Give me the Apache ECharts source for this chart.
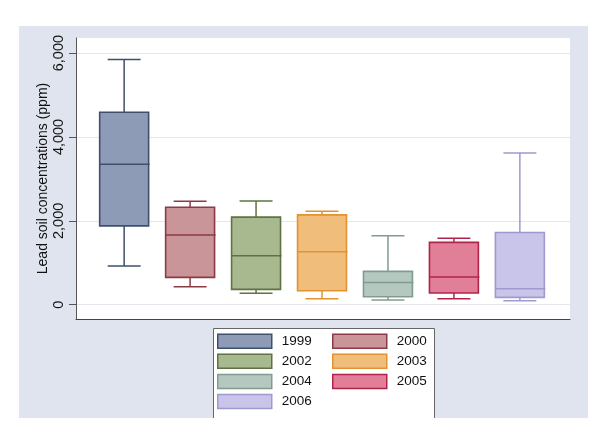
<!DOCTYPE html>
<html><head><meta charset="utf-8">
<script src="https://cdn.jsdelivr.net/npm/echarts@6/dist/echarts.min.js"></script>
<style>html,body{margin:0;padding:0;background:#fff}#c{width:600px;height:434px}</style>
</head><body><div id="c"></div>
<script>
const years = ['1999', '2000', '2002', '2003', '2004', '2005', '2006'];
const whiskerLow = [921, 429, 271, 143, 112, 143, 95];
const q1 = [1881, 652, 367, 333, 190, 279, 176];
const median = [3350, 1660, 1167, 1262, 533, 660, 381];
const q3 = [4588, 2326, 2088, 2143, 795, 1486, 1724];
const whiskerHigh = [5850, 2469, 2476, 2231, 1643, 1588, 3619];
const yTicks = [0, 2000, 4000, 6000];

const fills = ['#8e9bb6', '#c99599', '#a8b98f', '#f1bd7a', '#b5c8c0', '#e17f99', '#c8c4ea'];
const strokes = ['#3e506d', '#8c3b44', '#5e7343', '#e29331', '#819b91', '#b2234b', '#9f99cf'];

const fmt = v => String(v).replace(/\B(?=(\d{3})+(?!\d))/g, ',');

function makeRender(i) {
  return function (params, api) {
    const x = api.value(0);
    const unit = api.size([1, 0])[0];
    const bw = unit * 0.742, cw = unit * 0.5;
    const pLo = api.coord([x, api.value(1)]);
    const pQ1 = api.coord([x, api.value(2)]);
    const pMed = api.coord([x, api.value(3)]);
    const pQ3 = api.coord([x, api.value(4)]);
    const pHi = api.coord([x, api.value(5)]);
    const cx = pLo[0];
    const ls = { stroke: strokes[i], lineWidth: 1.5 };
    return {
      type: 'group',
      children: [
        { type: 'line', shape: { x1: cx, y1: pHi[1], x2: cx, y2: pQ3[1] }, style: ls },
        { type: 'line', shape: { x1: cx, y1: pQ1[1], x2: cx, y2: pLo[1] }, style: ls },
        { type: 'line', shape: { x1: cx - cw / 2, y1: pHi[1], x2: cx + cw / 2, y2: pHi[1] }, style: ls },
        { type: 'line', shape: { x1: cx - cw / 2, y1: pLo[1], x2: cx + cw / 2, y2: pLo[1] }, style: ls },
        { type: 'rect', shape: { x: cx - bw / 2, y: pQ3[1], width: bw, height: pQ1[1] - pQ3[1] },
          style: { fill: fills[i], stroke: strokes[i], lineWidth: 1.6 } },
        { type: 'line', shape: { x1: cx - bw / 2, y1: pMed[1], x2: cx + bw / 2 + 1, y2: pMed[1] }, style: ls }
      ]
    };
  };
}

const series = years.map((y, i) => ({
  type: 'custom',
  name: y,
  renderItem: makeRender(i),
  itemStyle: { color: fills[i], borderColor: strokes[i] },
  encode: { x: 0, y: [1, 2, 3, 4, 5] },
  data: [[i + 1, whiskerLow[i], q1[i], median[i], q3[i], whiskerHigh[i]]]
}));

function legendFor(idx, left) {
  return {
    orient: 'vertical', left: left, top: 333.5, padding: 0,
    itemWidth: 54, itemHeight: 14, itemGap: 4.6, icon: 'rect',
    selectedMode: false,
    textStyle: { fontFamily: 'Liberation Sans, Arial, sans-serif', fontSize: 13.5, color: '#111', padding: [0, 0, 0, 5] },
    data: idx.map(i => ({ name: years[i], itemStyle: { color: fills[i], borderColor: strokes[i], borderWidth: 1.5 } }))
  };
}

const chart = echarts.init(document.getElementById('c'), null, { renderer: 'canvas' });
chart.setOption({
  animation: false,
  backgroundColor: '#fff',
  textStyle: { fontFamily: 'Liberation Sans, Arial, sans-serif' },
  graphic: [
    { type: 'rect', z: -10, shape: { x: 19, y: 26, width: 569, height: 392 }, style: { fill: '#dfe4ee' } },
    { type: 'rect', z: -5, shape: { x: 213.5, y: 328.5, width: 221, height: 89.5 }, style: { fill: '#fff' } },
    { type: 'polyline', z: -4, shape: { points: [[213.5, 418], [213.5, 328.5], [434.5, 328.5], [434.5, 418]] },
      style: { stroke: '#666', lineWidth: 1, fill: null } }
  ],
  grid: { left: 76, right: 30, top: 38, bottom: 115, show: true, backgroundColor: '#fff', borderWidth: 0 },
  legend: [legendFor([0, 2, 4, 6], 217), legendFor([1, 3, 5], 332)],
  xAxis: {
    type: 'value', min: 0.27, max: 7.76,
    axisLine: { show: true, onZero: false, lineStyle: { color: '#444', width: 1 } },
    axisTick: { show: false }, axisLabel: { show: false }, splitLine: { show: false }
  },
  yAxis: {
    type: 'value', min: -340, max: 6360,
    name: 'Lead soil concentrations (ppm)', nameLocation: 'middle', nameGap: 26, nameMoveOverlap: false,
    nameTextStyle: { fontSize: 14, color: '#111' },
    axisLine: { show: true, lineStyle: { color: '#555', width: 1 } },
    axisTick: { show: true, length: 7, customValues: yTicks, lineStyle: { color: '#555' } },
    axisLabel: { customValues: yTicks, rotate: 90, margin: 10, fontSize: 14.5, color: '#111', formatter: fmt },
    splitLine: { show: true, lineStyle: { color: '#e4e7ee', width: 1 } }
  },
  series: series
});
</script></body></html>
